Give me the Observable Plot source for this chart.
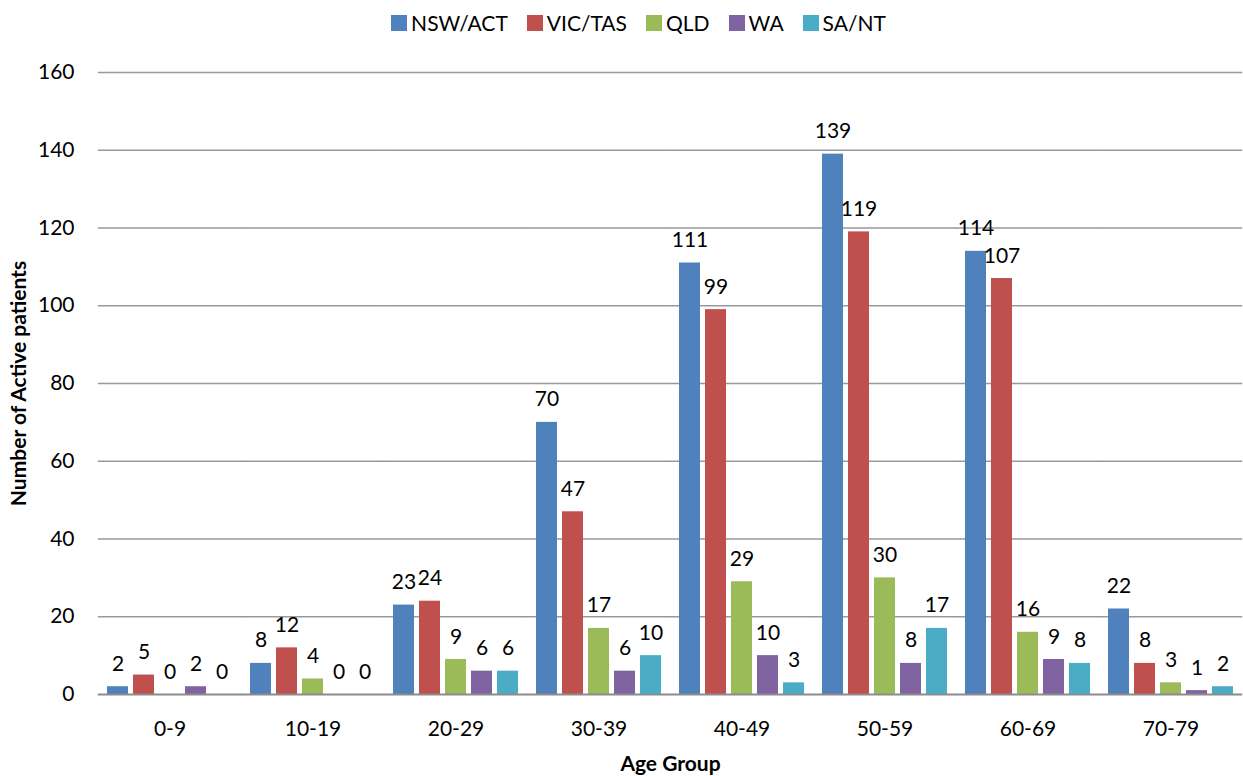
<!DOCTYPE html>
<html>
<head>
<meta charset="utf-8">
<script src="https://cdn.jsdelivr.net/npm/d3@7"></script>
<script src="https://cdn.jsdelivr.net/npm/@observablehq/plot@0.6"></script>
<style>
  html, body { margin: 0; padding: 0; background: #fff; }
  #wrap { position: relative; width: 1243px; height: 776px; font-family: Lato, "Open Sans", sans-serif; }
  #chart { position: absolute; top: 0; left: 0; z-index: 1; }
  #legend { position: absolute; top: 6px; left: 17px; width: 1243px; display: flex; justify-content: center; z-index: 2; }
  #legend > * { font-family: Lato, "Open Sans", sans-serif; font-size: 21px; color: #000; }
  #legend .lg-swatch { margin-right: 19px !important; }
  #legend .lg-swatch:last-child { margin-right: 0 !important; }
  #legend .lg-swatch > svg { margin-right: 4px !important; }
  #chart [aria-label="fx-axis label"] text, #chart [aria-label="y-axis label"] text,
  #chart [aria-label="fx-axis label"], #chart [aria-label="y-axis label"] { font-weight: bold; }
</style>
</head>
<body>
<div id="wrap">
  <div id="chart"></div>
  <div id="legend"></div>
</div>
<script>
const ages = ["0-9", "10-19", "20-29", "30-39", "40-49", "50-59", "60-69", "70-79"];
const series = ["NSW/ACT", "VIC/TAS", "QLD", "WA", "SA/NT"];
const colors = ["#4F81BD", "#C0504D", "#9BBB59", "#8064A2", "#4BACC6"];
const nswAct = [2, 8, 23, 70, 111, 139, 114, 22];
const vicTas = [5, 12, 24, 47, 99, 119, 107, 8];
const qld    = [0, 4, 9, 17, 29, 30, 16, 3];
const wa     = [2, 0, 6, 6, 10, 8, 9, 1];
const saNt   = [0, 0, 6, 10, 3, 17, 8, 2];
const yTicks = [0, 20, 40, 60, 80, 100, 120, 140, 160];

const valuesBySeries = [nswAct, vicTas, qld, wa, saNt];
const data = [];
ages.forEach((age, i) => {
  series.forEach((s, j) => {
    data.push({age, series: s, value: valuesBySeries[j][i]});
  });
});

const outerPad = 7.2;

const chart = Plot.plot({
  width: 1243,
  height: 776,
  marginLeft: 97,
  marginRight: 0,
  marginTop: 72,
  marginBottom: 82,
  style: {fontFamily: "Lato, 'Open Sans', sans-serif", fontSize: "21px", color: "#000", background: "#fff"},
  fx: {domain: ages, paddingInner: 0.1, paddingOuter: 0.05, axis: "bottom", tickSize: 0, tickPadding: 27, label: "Age Group", labelAnchor: "center", labelOffset: 76, labelArrow: "none"},
  x: {domain: series, paddingInner: 0.19, paddingOuter: 0, axis: null},
  y: {domain: [0, 160], ticks: yTicks, tickSize: 0, tickPadding: 31, label: "Number of Active patients", labelAnchor: "center", labelOffset: 94, labelArrow: "none"},
  color: {domain: series, range: colors},
  marks: [
    Plot.ruleY(yTicks.filter(d => d > 0), {y: d => d, stroke: "#999", strokeWidth: 1.5, insetLeft: -outerPad, insetRight: -outerPad}),
    Plot.barY(data, {fx: "age", x: "series", y: "value", fill: "series"}),
    Plot.ruleY([0], {stroke: "#8c8c8c", strokeWidth: 2.2, insetLeft: -outerPad, insetRight: -outerPad}),
    Plot.text(data, {fx: "age", x: "series", y: "value", text: d => String(d.value), lineAnchor: "bottom", dy: -16, fill: "#000", fontSize: 21})
  ]
});
document.getElementById("chart").appendChild(chart);

const legend = Plot.legend({
  color: {domain: series, range: colors},
  swatchSize: 16,
  className: "lg",
  style: {fontSize: "21px", fontFamily: "Lato, 'Open Sans', sans-serif", background: "transparent"}
});
document.getElementById("legend").appendChild(legend);
</script>
</body>
</html>
